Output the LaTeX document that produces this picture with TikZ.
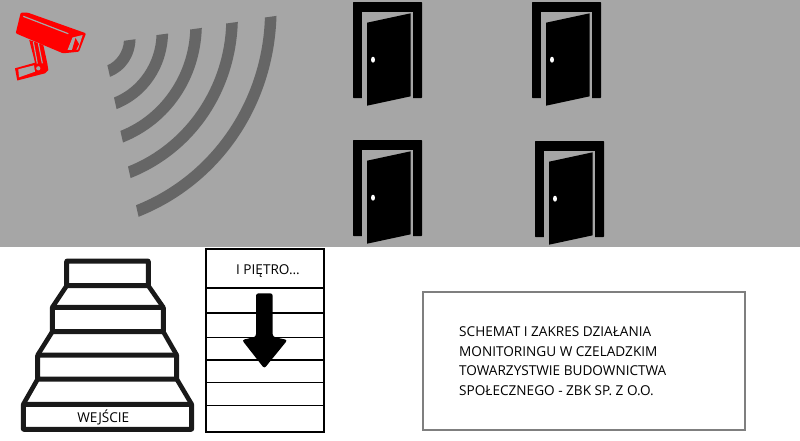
\documentclass[tikz,border=0pt]{standalone}
\usepackage{fontspec}
\setmainfont{Open Sans}
\definecolor{bggray}{HTML}{A6A6A6}
\definecolor{wavegray}{HTML}{666666}
\definecolor{boxgray}{HTML}{7F7F7F}
\definecolor{camred}{HTML}{FF0000}
% top x, top y, bottom x, bottom y, control length
\newcommand{\sigarc}[5]{\fill[wavegray]
  ({#1-5.8},{#2+0.8}) .. controls ({#1-5.8-0.03*(#5-3.5)},{#2+0.8+(#5-3.5)}) and ({#3-1.3+0.93*(#5-3.5)},{#4-5.8-0.37*(#5-3.5)}) .. ({#3-1.3},{#4-5.8})
  -- ({#3+1.3},{#4+5.8}) .. controls ({#3+1.3+0.93*(#5+3.5)},{#4+5.8-0.37*(#5+3.5)}) and ({#1+5.8-0.03*(#5+3.5)},{#2-0.8+(#5+3.5)}) .. ({#1+5.8},{#2-0.8}) -- cycle;}
\tikzset{
  x=1pt,y=-1pt,
  stair/.style={draw=black!90,line width=5pt,line join=round,rounded corners=0.5pt},
  stairlink/.style={draw=black!90,line width=4.6pt},
  floorline/.style={draw=black,line width=1.3pt},
  label/.style={font=\fontsize{13.6}{15}\selectfont,text=black,inner sep=0pt},
  pics/doorpic/.style={code={
    \fill[black,rounded corners=0.7pt] (0,0) rectangle (69,96);
    \fill[bggray] (9,9.7) rectangle (59.7,97);
    \fill[black] (14,20.7) -- (57.7,11.3) -- (57.7,94.3) -- (14,103.7) -- cycle;
    \fill[white] (20,57.7) ellipse [x radius=2,y radius=3];
  }}
}
\begin{document}
\begin{tikzpicture}
\useasboundingbox (0,0) rectangle (800,440);
\fill[white] (0,0) rectangle (800,440);
\fill[bggray] (0,0) rectangle (800,246.5);
% camera
\fill[camred,rounded corners=1pt] (20.7,12.7) -- (28,12.7) -- (86,33.3) -- (79,51.7) -- (63,53.3) -- (15.7,33.3) -- cycle;
\draw[bggray,line width=1.2pt] (23.3,16.3) -- (68.3,33.7);
\fill[bggray] (67.5,50) -- (72.5,37.5) -- (82.7,35) -- (78,49.5) -- cycle;
\fill[camred] (72,50) -- (75.5,38) -- (79,44) -- (76,50) -- cycle;
\fill[camred] (29.3,40) -- (43.3,45) -- (47.3,63.3) -- (48.3,70) -- (45,73.3) -- (17.3,80.5) -- (15,68.3) -- (35,62.7) -- cycle;
\fill[bggray] (18.3,69.3) -- (34,65.3) -- (35,71.7) -- (19,77.3) -- cycle;
\draw[bggray,line width=1.1pt] (33.3,41.7) -- (37.3,63.5);
\draw[bggray,line width=1.1pt] (38.3,43) -- (42.3,63.3);
\fill[bggray] (38.3,68.3) circle (2.1);
% waves
\sigarc{129.7}{40}{108.7}{71}{13.6}
\sigarc{162.3}{34.3}{115.3}{103.3}{30.4}
\sigarc{196}{28.7}{121.7}{136.7}{47.7}
\sigarc{232}{22.7}{129.3}{172.3}{66}
\sigarc{270.7}{16.7}{137.3}{211}{85.8}
% doors
\pic at (353,2) {doorpic};
\pic at (532,2) {doorpic};
\pic at (353,140) {doorpic};
\pic at (535,141) {doorpic};
% stairs
\draw[stairlink] (66.7,285.7) -- (52.3,307.3) (148.3,285.7) -- (163.3,307.3)
  (52.3,331.7) -- (37.7,355) (163.3,331.7) -- (176.7,355)
  (37.7,379) -- (23.3,404.3) (176.7,379) -- (191.7,404.3);
\draw[stair] (66.7,261) rectangle (148.3,285.7);
\draw[stair] (52.3,307.3) rectangle (163.3,331.7);
\draw[stair] (37.7,355) rectangle (176.7,379);
\draw[stair] (23.3,404.3) rectangle (191.7,429.3);
\node[label] (entry) at (103.3,417) {WEJŚCIE};
% floor box
\draw[black,line width=2pt] (206,249) rectangle (324,431.7);
\foreach \yy in {288,313,337.3,360,382.3,405.3} \draw[floorline] (206,\yy) -- (324,\yy);
\fill[black,rounded corners=2.5pt] (256,293.3) -- (272.7,293.3) -- (272.7,336.7) -- (287.5,340) -- (264.3,368.5) -- (242,340) -- (256,336.7) -- cycle;
\node[label] (floor) at (268,271.5) {I PIĘTRO...};
% title box
\draw[boxgray,line width=2pt] (423,292.3) rectangle (745,430);
\node[label,anchor=base west] (t1) at (459,336.7) {SCHEMAT I ZAKRES DZIAŁANIA};
\node[label,anchor=base west] (t2) at (459,356) {MONITORINGU W CZELADZKIM};
\node[label,anchor=base west] (t3) at (459,375.3) {TOWARZYSTWIE BUDOWNICTWA};
\node[label,anchor=base west] (t4) at (459,395) {SPOŁECZNEGO - ZBK SP. Z O.O.};
\end{tikzpicture}
\end{document}
